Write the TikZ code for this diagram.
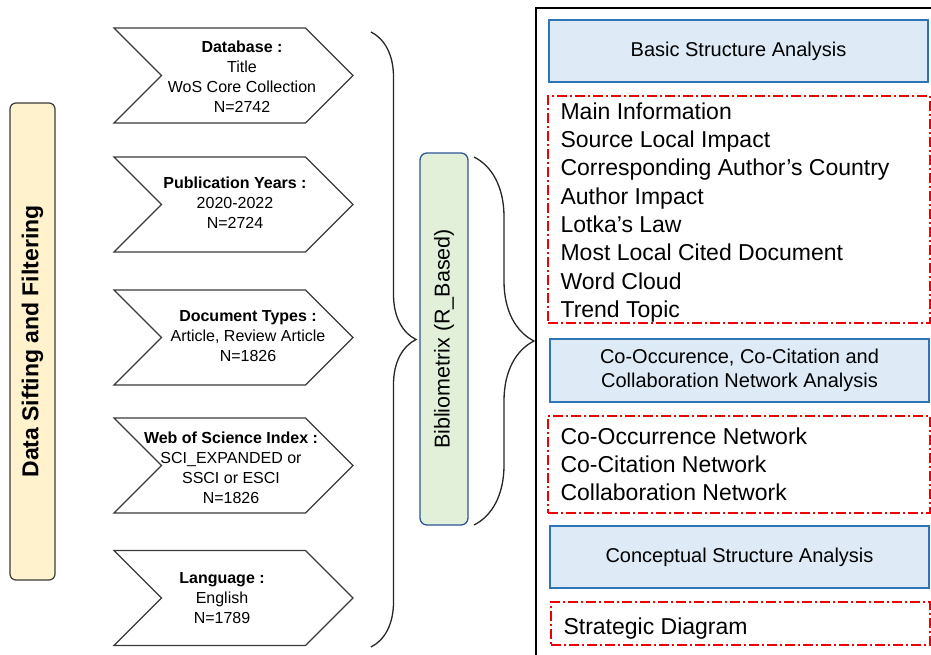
\documentclass[tikz,border=0pt]{standalone}
\usepackage{fontspec}
\setmainfont{Liberation Sans}
\usetikzlibrary{shapes.symbols,decorations.pathreplacing}

\definecolor{barfill}{HTML}{FFF2CC}
\definecolor{greenfill}{HTML}{E2F0D9}
\definecolor{greenline}{HTML}{2F5597}
\definecolor{bluefill}{HTML}{DEEBF7}
\definecolor{blueline}{HTML}{2E75B6}
\definecolor{chevgray}{HTML}{3A3A3A}
\definecolor{dashred}{HTML}{F00000}

\tikzset{
  chevron/.style={signal, signal from=west, signal to=east, signal pointer angle=90,
    draw=chevgray, fill=white, line width=1.3pt, inner sep=0pt,
    minimum width=239pt, minimum height=95pt},
  chevtext/.style={align=center, font=\fontsize{16}{20}\selectfont, inner sep=0pt},
  bluebox/.style={draw=blueline, fill=bluefill, line width=1.6pt, align=center,
    font=\fontsize{20}{24}\selectfont, inner sep=0pt},
  redbox/.style={draw=dashred, line width=1.3pt, dash pattern=on 10pt off 3pt on 2pt off 3pt,
    inner sep=0pt},
  listtext/.style={anchor=north west, align=left, inner sep=0pt,
    font=\fontsize{23}{28.3}\selectfont},
  bracket/.style={decorate, decoration={brace, amplitude=#1}, line width=1.3pt, draw=black!85},
}

\begin{document}
\begin{tikzpicture}[x=1pt, y=-1pt]
    \useasboundingbox (0,0) rectangle (931,655);
    % Filterbalken
    \node[draw=chevgray, fill=barfill, line width=1.2pt, rounded corners=6pt, rotate=90,
      minimum width=477pt, minimum height=45pt, inner sep=0pt,
      font=\bfseries\fontsize{23}{27}\selectfont] (filter) at (32.5,341.5) {Data Sifting and Filtering};
    % Pfeile
    \foreach \i/\yc in {1/75.5, 2/204.5, 3/337.5, 4/465.5, 5/598}
        \node[chevron] (chev\i) at (233.5,\yc) {};
    \node[chevtext] (dbtext) at (242,76.5) {\textbf{Database :}\\Title\\WoS Core Collection\\N=2742};
    \node[chevtext] (yeartext) at (235,202.5) {\textbf{Publication Years :}\\2020-2022\\N=2724};
    \node[chevtext] (typetext) at (248,336) {\textbf{Document Types :}\\Article, Review Article\\N=1826};
    \node[chevtext] (wostext) at (231,468) {\textbf{Web of Science Index :}\\SCI\_EXPANDED or\\SSCI or ESCI\\N=1826};
    \node[chevtext] (langtext) at (222,598.5) {\textbf{Language :}\\English\\N=1789};
    % Klammern
    \coordinate (b1top) at (371,32);
    \coordinate (b1bot) at (371,647);
    \draw[bracket=45] (b1top) -- (b1bot);
    \node[draw=greenline, fill=greenfill, line width=1.3pt, rounded corners=7pt, rotate=90,
      minimum width=372pt, minimum height=48pt, inner sep=0pt,
      font=\fontsize{21.5}{24}\selectfont] (biblio) at (444,339) {Bibliometrix (R\_Based)};
    \coordinate (b2top) at (474,157);
    \coordinate (b2bot) at (474,525);
    \draw[bracket=60] (b2top) -- (b2bot);
    % Rahmen
    \draw[line width=1.5pt] (940,8) -- (536,8) -- (536,665);
    % Analysen
    \node[bluebox, minimum width=379pt, minimum height=62pt] (basic) at (738.5,51) {Basic Structure Analysis};
    \node[redbox, minimum width=382pt, minimum height=227pt] (basicbox) at (739,209.5) {};
    \node[listtext] (basiclist) at ([xshift=13pt, yshift=-7pt]basicbox.north west)
      {Main Information\\Source Local Impact\\Corresponding Author’s Country\\Author Impact\\Lotka’s Law\\Most Local Cited Document\\Word Cloud\\Trend Topic};
    \node[bluebox, minimum width=379pt, minimum height=63pt] (network) at (739.5,370.5)
      {Co-Occurence, Co-Citation and\\Collaboration Network Analysis};
    \node[redbox, minimum width=382pt, minimum height=97pt] (networkbox) at (739,464.5) {};
    \node[listtext] (networklist) at ([xshift=13pt, yshift=-12pt]networkbox.north west)
      {Co-Occurrence Network\\Co-Citation Network\\Collaboration Network};
    \node[bluebox, minimum width=379pt, minimum height=62pt] (concept) at (739.5,557) {Conceptual Structure Analysis};
    \node[redbox, minimum width=379pt, minimum height=43pt] (conceptbox) at (740.5,623.5) {};
    \node[listtext] (conceptlist) at ([xshift=13pt, yshift=-16pt]conceptbox.north west) {Strategic Diagram};
\end{tikzpicture}
\end{document}
